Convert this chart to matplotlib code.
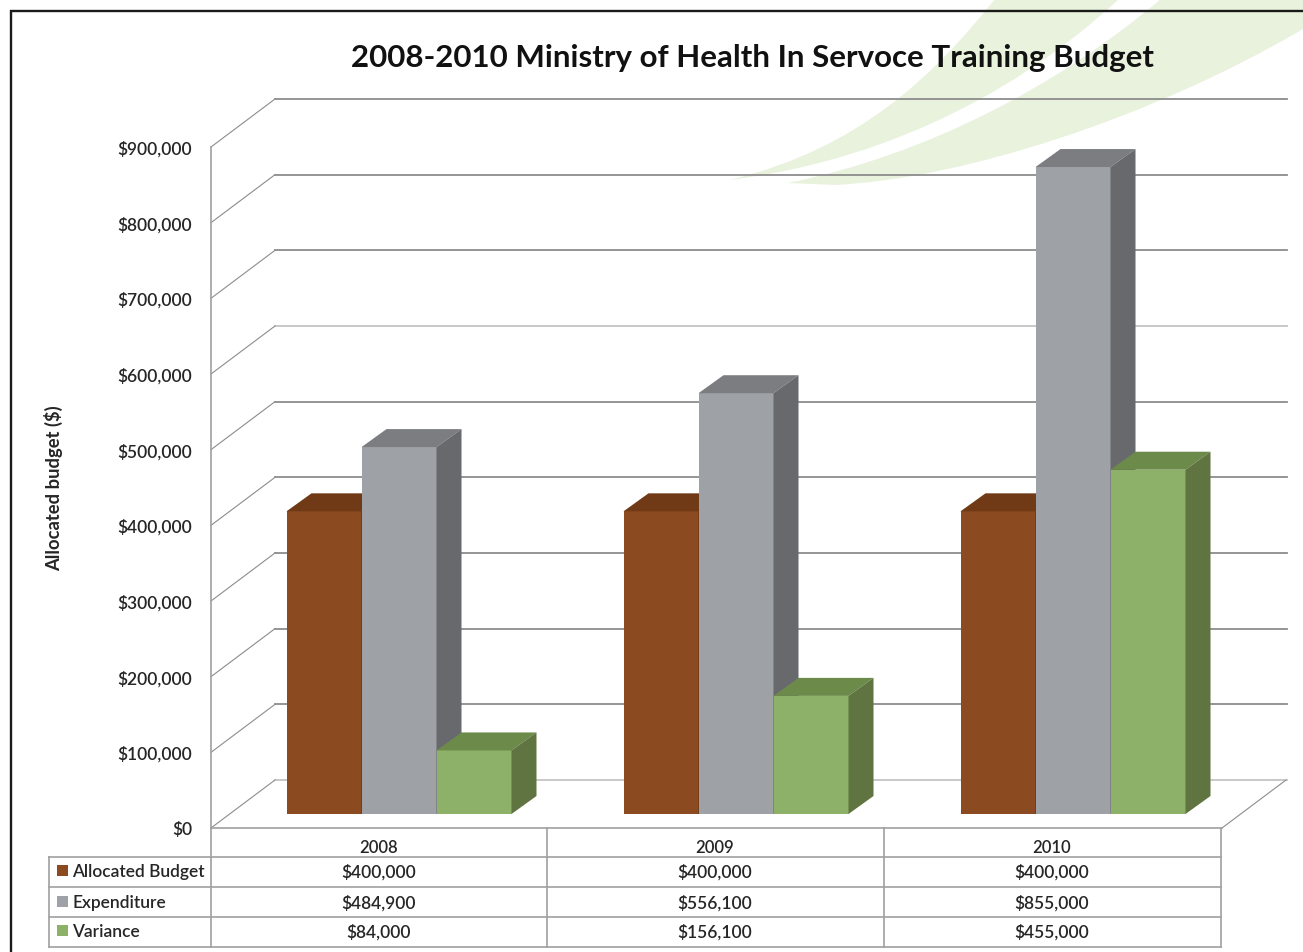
import matplotlib
matplotlib.use('Agg')
import matplotlib.pyplot as plt
from matplotlib.patches import PathPatch, Polygon, Rectangle
from matplotlib.path import Path

plt.rcParams['font.family'] = ['Lato', 'DejaVu Sans']

years = ['2008', '2009', '2010']
allocated = [400000, 400000, 400000]
expenditure = [484900, 556100, 855000]
variance = [84000, 156100, 455000]
y_ticks = [0, 100000, 200000, 300000, 400000, 500000, 600000, 700000, 800000, 900000]

series_names = ['Allocated Budget', 'Expenditure', 'Variance']
series_values = [allocated, expenditure, variance]
front_colors = ['#8B4A1F', '#9EA1A6', '#8DB168']
top_colors = ['#6F3A15', '#7C7D81', '#6C8A4A']
side_colors = ['#5E3010', '#68696D', '#5F7440']

W, H = 1303, 953
TEXT = '#262626'
LINE = '#8c8c8c'
TABLE_LINE = '#a0a0a0'

fig = plt.figure(figsize=(W / 100, H / 100), dpi=100, facecolor='white')

# background layer in pixel coordinates: swooshes, frame, data table
bg = fig.add_axes([0, 0, 1, 1], zorder=0)
bg.set_xlim(0, W)
bg.set_ylim(H, 0)
bg.axis('off')

swoosh_fill = '#E9F2DD'
c, m, l = Path.CURVE4, Path.MOVETO, Path.LINETO
swoosh1 = Path([(729, 181), (860, 150), (935, 75), (995, 0), (1119, 0),
                (1000, 110), (860, 165), (729, 181)],
               [m, c, c, c, l, c, c, c])
swoosh2 = Path([(788, 184), (930, 155), (1060, 85), (1161, 0), (1303, 0), (1303, 30),
                (1150, 120), (960, 180), (835, 186), (788, 184)],
               [m, c, c, c, l, l, c, c, c, l])
for sw in (swoosh1, swoosh2):
    bg.add_patch(PathPatch(sw, facecolor=swoosh_fill, edgecolor='none', zorder=1))

# page frame
bg.plot([11, 11, W], [H, 12, 12], color='#1a1a1a', lw=1.7, zorder=2, solid_joinstyle='miter')

# data table under the plot
col_x = [211, 547, 884, 1221]
row_y = [858, 888, 918, 948]
for y in row_y:
    bg.plot([49, 1221], [y, y], color=TABLE_LINE, lw=1.2, zorder=2)
bg.plot([49, 49], [row_y[0], row_y[-1]], color=TABLE_LINE, lw=1.2, zorder=2)
for x in col_x:
    bg.plot([x, x], [829, row_y[-1]], color=TABLE_LINE, lw=1.2, zorder=2)

group_centers = [(col_x[i] + col_x[i + 1]) / 2 - 0.5 for i in range(3)]
for cx, year in zip(group_centers, years):
    bg.text(cx, 848, year, ha='center', va='center', fontsize=12, color=TEXT, fontweight='semibold')

row_text_y = [872, 903, 932]
for name, values, color, y in zip(series_names, series_values, front_colors, row_text_y):
    bg.add_patch(Rectangle((57, y - 6.5), 11, 11, facecolor=color, edgecolor='none', zorder=3))
    bg.text(72, y, name, ha='left', va='center', fontsize=12.5, color=TEXT, fontweight='semibold')
    for cx, v in zip(group_centers, values):
        bg.text(cx, y, f'${v:,}', ha='center', va='center', fontsize=12.5, color=TEXT, fontweight='semibold')

bg.text(752.5, 58, '2008-2010 Ministry of Health In Servoce Training Budget', ha='center', va='center',
        fontsize=22.5, fontweight='bold', color='#111111', zorder=4)

# chart axes: x is in pixels across the plot, y is in dollars
ax = fig.add_axes([211 / W, 1 - 829 / H, (1222 - 211) / W, (829 - 148) / H], zorder=1)
ax.patch.set_alpha(0)
ax.set_xlim(211, 1222)
ax.set_ylim(0, 900000)
usd_per_px = 900000 / (829 - 148)

for side in ('top', 'right'):
    ax.spines[side].set_visible(False)
for side in ('left', 'bottom'):
    ax.spines[side].set_color(TABLE_LINE)
    ax.spines[side].set_linewidth(1.2)

ax.set_xticks([])
ax.set_yticks(y_ticks)
ax.set_yticklabels([f'${v:,}' for v in y_ticks], fontsize=12.5, color=TEXT, fontweight='semibold')
ax.tick_params(axis='y', length=0, pad=13.5)
ax.set_ylabel('Allocated budget ($)', fontsize=13.2, fontweight='bold', color=TEXT)
ax.yaxis.set_label_coords((63 - 211) / (1222 - 211), (829 - 488) / (829 - 148))

# back wall and left wall lines, offset from the front plane by the chart depth
wall_dx, wall_dy = 64, 48 * usd_per_px
for v in y_ticks:
    shade = '#c4c4c4' if v in (0, 600000) else LINE
    ax.plot([211 + wall_dx, 1287], [v + wall_dy, v + wall_dy], color=shade, lw=1.3, clip_on=False, zorder=1)
    ax.plot([211, 211 + wall_dx], [v, v + wall_dy], color=LINE, lw=0.8, clip_on=False, zorder=1)
ax.plot([1222, 1222 + wall_dx], [0, wall_dy], color=LINE, lw=0.8, clip_on=False, zorder=1)

# 3d columns: front from bar(), top and side faces as polygons
bar_w = 75
depth_x, depth_y = 25, 18 * usd_per_px
floor = 14 * usd_per_px
centers = [399, 736, 1073]

for i, cx in enumerate(centers):
    for k, values in enumerate(series_values):
        value = values[i]
        left = cx + (k - 1) * bar_w - bar_w / 2
        right = left + bar_w
        top = floor + value
        z = 3 + k
        ax.bar(left, value, width=bar_w, bottom=floor, align='edge', color=front_colors[k], linewidth=0, zorder=z)
        ax.add_patch(Polygon([(left, top), (left + depth_x, top + depth_y),
                              (right + depth_x, top + depth_y), (right, top)],
                             facecolor=top_colors[k], edgecolor='none', zorder=z))
        ax.add_patch(Polygon([(right, floor), (right + depth_x, floor + depth_y),
                              (right + depth_x, top + depth_y), (right, top)],
                             facecolor=side_colors[k], edgecolor='none', zorder=z))

fig.savefig('out.png', dpi=100)
